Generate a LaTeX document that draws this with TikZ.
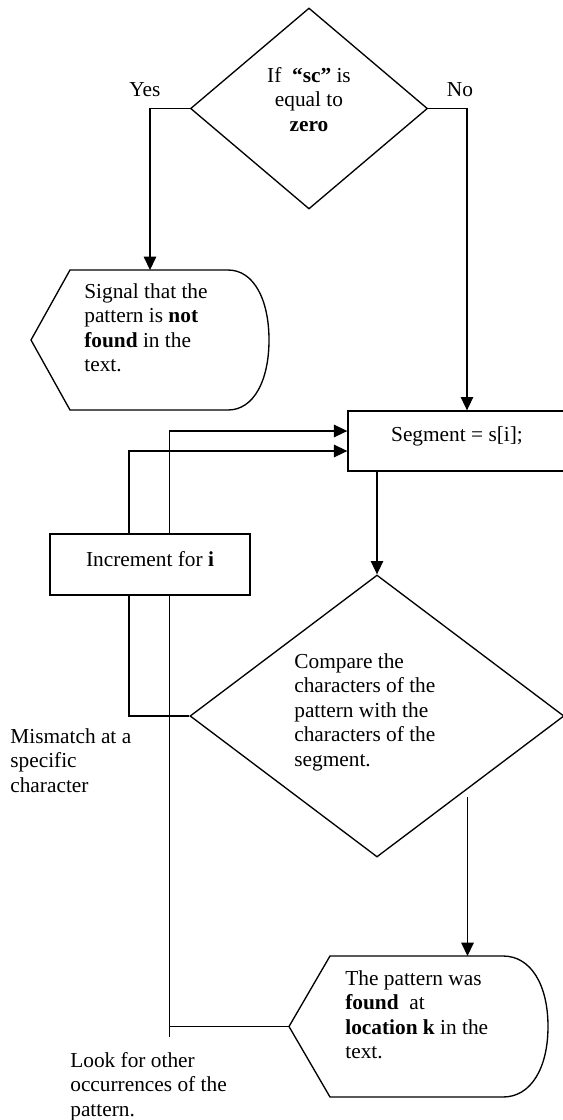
\documentclass[tikz,border=0pt]{standalone}
\usepackage{fontspec}
\setmainfont{Liberation Serif}
\usetikzlibrary{shapes.geometric,arrows.meta,backgrounds}
\begin{document}
\begin{tikzpicture}[x=0.5625pt,y=-0.5625pt,
  ln/.style={line width=0.75pt},
  arr/.style={line width=0.75pt,-{Triangle[length=7.5pt,width=7pt]}},
  txt/.style={font=\fontsize{12}{13.8}\selectfont,inner sep=0pt,align=left},
  box/.style={draw,line width=0.75pt,rectangle,fill=white,inner sep=0pt},
  decision/.style={draw,diamond,line width=0.75pt,inner sep=0pt,fill=white},
  disp/.style={draw,line width=0.75pt,fill=white},
  ghost/.style={rectangle,inner sep=0pt,outer sep=0pt}
]
\useasboundingbox (0,0) rectangle (563,1120);

% shapes
\node[decision,minimum width=133.31pt,minimum height=113.06pt] (dec) at (309,108.5) {};
\node[ghost,minimum width=133.9pt,minimum height=78.75pt] (sig) at (150,340) {};
\draw[disp] (31,340) -- (70,270) -- (228,270) .. controls (254,270) and (269,300) .. (269,340) .. controls (269,380) and (254,410) .. (228,410) -- (70,410) -- cycle;
\node[box,minimum width=124.88pt,minimum height=33.75pt] (seg) at (459,441) {};
\node[box,minimum width=112.5pt,minimum height=34.31pt] (inc) at (150,564.5) {};
\node[decision,minimum width=210.38pt,minimum height=158.63pt] (cmp) at (377,716) {};
\node[ghost,minimum width=145.69pt,minimum height=79.31pt] (fnd) at (418.5,1026.5) {};
\draw[disp] (289,1026.5) -- (330,956) -- (503,956) .. controls (531,956) and (548,985) .. (548,1026.5) .. controls (548,1068) and (531,1097) .. (503,1097) -- (330,1097) -- cycle;

% connectors
\begin{scope}[on background layer]
\draw[arr] (dec.west) -| (sig.north);
\draw[arr] (dec.east) -| ([xshift=4.5pt]seg.north);
\draw[arr] (cmp.north |- seg.south) -- (cmp.north);
\coordinate (cmpout) at (467.5,797);
\draw[arr] (cmpout) -- (cmpout |- fnd.north);
\draw[ln] (cmp.west) -| ([xshift=-11.81pt]inc.south);
\draw[arr] ([xshift=-11.81pt]inc.north) |- ([yshift=-5.625pt]seg.west);
\coordinate (lk) at (169.5,1037);
\draw[ln] (fnd.west) -- (fnd.west -| lk);
\draw[arr] (lk) |- ([yshift=5.625pt]seg.west);
\end{scope}

% texts
\node[txt,align=center,anchor=north] (dect) at (309,67) {If\ \ \textbf{“sc”} is\\equal to\\\textbf{zero}};
\node[txt] (yes) at (145,90) {Yes};
\node[txt] (no) at (460,90) {No};
\node[txt,anchor=north west] (sigt) at (84,283) {Signal that the\\pattern is \textbf{not}\\\textbf{found} in the\\text.};
\node[txt] (segt) at (457,436) {Segment = s[i];};
\node[txt] (inct) at (150,559) {Increment for \textbf{i}};
\node[txt,anchor=north west] (cmpt) at (294,653) {Compare the\\characters of the\\pattern with the\\characters of the\\segment.};
\node[txt,anchor=north west] (fndt) at (345,970) {The pattern was\\\textbf{found}\ \ at\\\textbf{location k} in the\\text.};
\node[txt,anchor=north west] (mis) at (10,728) {Mismatch at a\\specific\\character};
\node[txt,anchor=north west] (look) at (70,1052) {Look for other\\occurrences of the\\pattern.};
\end{tikzpicture}
\end{document}
